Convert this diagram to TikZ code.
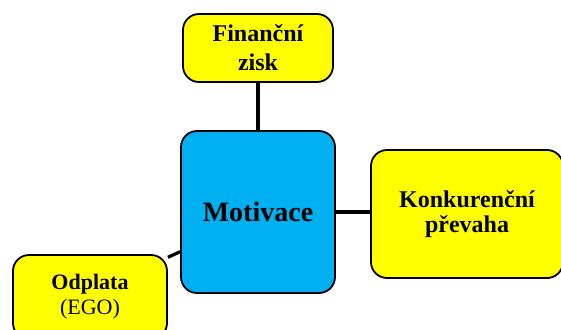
\documentclass[tikz,border=0pt]{standalone}
\usepackage{fontspec}
\setmainfont{Liberation Serif}
\begin{document}
\begin{tikzpicture}[x=1bp,y=-1bp,
  box/.style={draw=black, line width=1.8bp, rounded corners=16bp, align=center, inner sep=0pt, font=\bfseries},
  ybox/.style={box, fill={rgb,255:red,255;green,255;blue,0}},
  bbox/.style={box, fill={rgb,255:red,0;green,176;blue,240}},
  link/.style={line width=3.2bp, black}]
\useasboundingbox (0,0) rectangle (561,329);
\node[ybox, minimum width=150bp, minimum height=68bp, font=\bfseries\fontsize{24bp}{29bp}\selectfont] (fin) at (258,48) {Finanční\\zisk};
\node[bbox, minimum width=154bp, minimum height=162bp, font=\bfseries\fontsize{28bp}{30bp}\selectfont] (mot) at (258,212) {Motivace};
\node[ybox, minimum width=192bp, minimum height=128bp, font=\bfseries\fontsize{24bp}{25bp}\selectfont] (kon) at (467,214) {Konkurenční\\převaha};
\node[ybox, minimum width=154bp, minimum height=84bp, font=\fontsize{22bp}{25bp}\selectfont] (odp) at (90,297) {\textbf{Odplata}\\(EGO)};
\draw[link] (fin.south) -- (mot.north);
\draw[link] (mot.east) -- (mot.east -| kon.west);
\draw[link] (odp.27) -- (mot.207);
\end{tikzpicture}
\end{document}
